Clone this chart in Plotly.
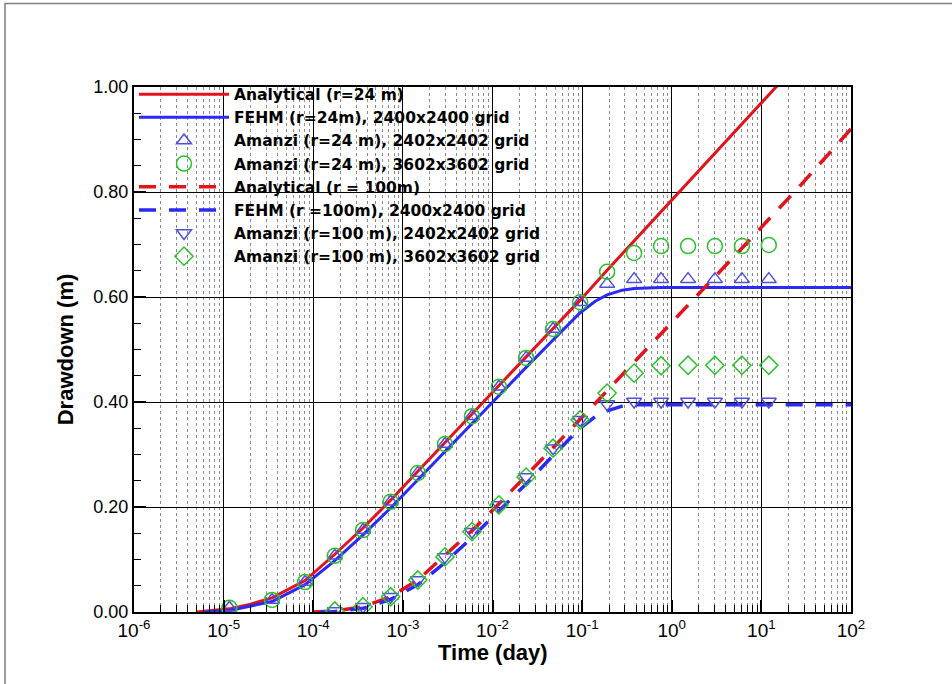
import plotly.graph_objects as go

# ---------------- data ----------------
# Amanzi output times (day)
t_r24 = [1.16e-5, 3.47e-5, 8.1e-5, 1.74e-4, 3.59e-4, 7.3e-4, 1.47e-3, 2.95e-3,
         5.9e-3, 1.18e-2, 2.37e-2, 4.74e-2, 9.5e-2, 0.19, 0.38, 0.76, 1.52,
         3.03, 6.07, 12.1]
amanzi24_2402 = [0.008, 0.023, 0.057, 0.107, 0.156, 0.210, 0.265, 0.320, 0.373,
                 0.429, 0.484, 0.539, 0.590, 0.625, 0.634, 0.634, 0.634, 0.634,
                 0.634, 0.634]
amanzi24_3602 = [0.008, 0.023, 0.057, 0.107, 0.156, 0.210, 0.265, 0.320, 0.373,
                 0.429, 0.484, 0.539, 0.590, 0.648, 0.684, 0.697, 0.697, 0.697,
                 0.697, 0.699]

t_r100 = [1.74e-4, 3.59e-4, 7.3e-4, 1.47e-3, 2.95e-3, 5.9e-3, 1.18e-2, 2.37e-2,
          4.74e-2, 9.5e-2, 0.19, 0.38, 0.76, 1.52, 3.03, 6.07, 12.1]
amanzi100_2402 = [0.002, 0.010, 0.029, 0.061, 0.105, 0.153, 0.204, 0.257, 0.312,
                  0.366, 0.396, 0.401, 0.401, 0.401, 0.401, 0.401, 0.401]
amanzi100_3602 = [0.002, 0.010, 0.029, 0.061, 0.105, 0.153, 0.204, 0.257, 0.312,
                  0.366, 0.417, 0.455, 0.469, 0.470, 0.470, 0.470, 0.470]

# Analytical, r = 24 m
t_an24 = [5e-6, 1.16e-5, 2e-5, 3.47e-5, 8.1e-5, 1.74e-4, 3.59e-4, 7.3e-4, 1.47e-3,
          2.95e-3, 5.9e-3, 1.18e-2, 2.37e-2, 4.74e-2, 9.5e-2, 0.19, 0.38, 0.76,
          1.52, 3.03, 6.07, 12.1, 24.3, 100]
an24 = [0.000, 0.006, 0.015, 0.027, 0.060, 0.110, 0.160, 0.213, 0.268, 0.323,
        0.377, 0.432, 0.486, 0.540, 0.594, 0.651, 0.707, 0.763, 0.818, 0.874,
        0.930, 0.985, 1.041, 1.155]

# FEHM, r = 24 m
t_fe24 = [6e-6, 1.16e-5, 3.47e-5, 8.1e-5, 1.74e-4, 3.59e-4, 7.3e-4, 1.47e-3,
          2.95e-3, 5.9e-3, 1.18e-2, 2.37e-2, 4.74e-2, 9.5e-2, 0.14, 0.19, 0.28,
          0.38, 0.76, 100]
fe24 = [0.000, 0.003, 0.020, 0.052, 0.098, 0.147, 0.198, 0.252, 0.306, 0.360,
        0.413, 0.466, 0.518, 0.570, 0.592, 0.604, 0.613, 0.616, 0.618, 0.618]

# Analytical, r = 100 m
t_an100 = [1e-4, 1.74e-4, 3.59e-4, 7.3e-4, 1.47e-3, 2.95e-3, 5.9e-3, 1.18e-2,
           2.37e-2, 4.74e-2, 9.5e-2, 0.19, 0.38, 0.76, 1.52, 3.03, 6.07, 12.1,
           24.3, 100]
an100 = [0.000, 0.002, 0.010, 0.029, 0.061, 0.107, 0.155, 0.206, 0.259, 0.313,
         0.367, 0.421, 0.475, 0.530, 0.584, 0.639, 0.693, 0.748, 0.803, 0.920]

# FEHM, r = 100 m
t_fe100 = [1.2e-4, 1.74e-4, 3.59e-4, 7.3e-4, 1.47e-3, 2.95e-3, 5.9e-3, 1.18e-2,
           2.37e-2, 4.74e-2, 9.5e-2, 0.14, 0.19, 0.28, 0.38, 100]
fe100 = [0.000, 0.001, 0.007, 0.024, 0.052, 0.094, 0.142, 0.192, 0.244, 0.298,
         0.350, 0.372, 0.383, 0.392, 0.395, 0.395]

x_tickvals = [1e-6, 1e-5, 1e-4, 1e-3, 1e-2, 1e-1, 1e0, 1e1, 1e2]
x_ticktext = ["10<sup>-6</sup>", "10<sup>-5</sup>", "10<sup>-4</sup>",
              "10<sup>-3</sup>", "10<sup>-2</sup>", "10<sup>-1</sup>",
              "10<sup>0</sup>", "10<sup>1</sup>", "10<sup>2</sup>"]

names = ["Analytical (r=24 m)", "FEHM (r=24m), 2400x2400 grid",
         "Amanzi (r=24 m), 2402x2402 grid", "Amanzi (r=24 m), 3602x3602 grid",
         "Analytical (r = 100m)", "FEHM (r =100m), 2400x2400 grid",
         "Amanzi (r=100 m), 2402x2402 grid", "Amanzi (r=100 m), 3602x3602 grid"]

RED = "#e3121b"
BLUE = "#2a2af5"
TRI = "#4f4fdc"
GREEN = "#2cc22c"
FONT = "Liberation Sans, Arial, sans-serif"
LFONT = "DejaVu Sans, Liberation Sans, sans-serif"

fig = go.Figure()
# lines first (drawn underneath)
fig.add_trace(go.Scatter(x=t_an24, y=an24, mode="lines", name=names[0], legendrank=1,
                         line=dict(color=RED, width=3)))
fig.add_trace(go.Scatter(x=t_fe24, y=fe24, mode="lines", name=names[1], legendrank=2,
                         line=dict(color=BLUE, width=3)))
fig.add_trace(go.Scatter(x=t_an100, y=an100, mode="lines", name=names[4], legendrank=5,
                         line=dict(color=RED, width=3.5, dash="17px,13px")))
fig.add_trace(go.Scatter(x=t_fe100, y=fe100, mode="lines", name=names[5], legendrank=6,
                         line=dict(color=BLUE, width=3.5, dash="17px,13px")))
# markers
fig.add_trace(go.Scatter(x=t_r24, y=amanzi24_2402, mode="markers", name=names[2], legendrank=3,
                         marker=dict(symbol="triangle-up-open", size=13, color=TRI,
                                     line=dict(width=1.5, color=TRI))))
fig.add_trace(go.Scatter(x=t_r24, y=amanzi24_3602, mode="markers", name=names[3], legendrank=4,
                         marker=dict(symbol="circle-open", size=15, color=GREEN,
                                     line=dict(width=1.5, color=GREEN))))
fig.add_trace(go.Scatter(x=t_r100, y=amanzi100_2402, mode="markers", name=names[6], legendrank=7,
                         marker=dict(symbol="triangle-down-open", size=13, color=TRI,
                                     line=dict(width=1.5, color=TRI))))
fig.add_trace(go.Scatter(x=t_r100, y=amanzi100_3602, mode="markers", name=names[7], legendrank=8,
                         marker=dict(symbol="diamond-open", size=14, color=GREEN,
                                     line=dict(width=1.5, color=GREEN))))

L, R, T, B = 134, 101, 87, 72
W, H = 952, 684
pw, ph = W - L - R, H - T - B

fig.update_layout(
    width=W, height=H,
    margin=dict(l=L, r=R, t=T, b=B),
    paper_bgcolor="white", plot_bgcolor="white",
    font=dict(family=FONT, color="black", size=18),
    showlegend=True,
    legend=dict(x=0.0, y=1.018, xanchor="left", yanchor="top",
                bgcolor="rgba(0,0,0,0)", borderwidth=0,
                font=dict(family=LFONT, size=15.5, color="black", weight="bold"),
                itemwidth=90, tracegroupgap=0, traceorder="normal"),
    xaxis=dict(
        type="log", range=[-6, 2],
        tickvals=x_tickvals, ticktext=x_ticktext,
        ticks="inside", ticklen=12, tickwidth=2, tickcolor="black",
        showline=True, linecolor="black", linewidth=2, mirror=True,
        showgrid=True, gridcolor="black", gridwidth=1,
        zeroline=False,
        tickfont=dict(family=FONT, size=19, color="black"),
        minor=dict(dtick="D1", ticks="inside", ticklen=7, tickcolor="black", tickwidth=1,
                   showgrid=True, gridcolor="#8c8c8c", griddash="dot", gridwidth=1),
    ),
    yaxis=dict(
        range=[0, 1], dtick=0.2, tickformat=".2f",
        ticks="inside", ticklen=12, tickwidth=2, tickcolor="black",
        showline=True, linecolor="black", linewidth=2, mirror=True,
        showgrid=True, gridcolor="black", gridwidth=1,
        zeroline=False,
        tickfont=dict(family=FONT, size=18, color="black"),
        minor=dict(dtick=0.05, ticks="inside", ticklen=7, tickcolor="black", tickwidth=1,
                   showgrid=False),
        title=dict(text="<b>Drawdown (m)</b>", font=dict(family=FONT, size=22, color="black"),
                   standoff=14),
    ),
    annotations=[dict(text="<b>Time (day)</b>", xref="paper", yref="paper",
                      x=0.5, y=-40 / ph, xanchor="center", yanchor="middle",
                      showarrow=False, font=dict(family=FONT, size=22, color="black"))],
    shapes=[dict(type="rect", xref="paper", yref="paper", layer="below",
                 x0=(5 - L) / pw, x1=(W + 20 - L) / pw,
                 y0=(H - B - (H + 20)) / ph, y1=(H - B - 3.5) / ph,
                 line=dict(color="#808080", width=1.5), fillcolor="rgba(0,0,0,0)")],
)

fig.write_html("out.html")
